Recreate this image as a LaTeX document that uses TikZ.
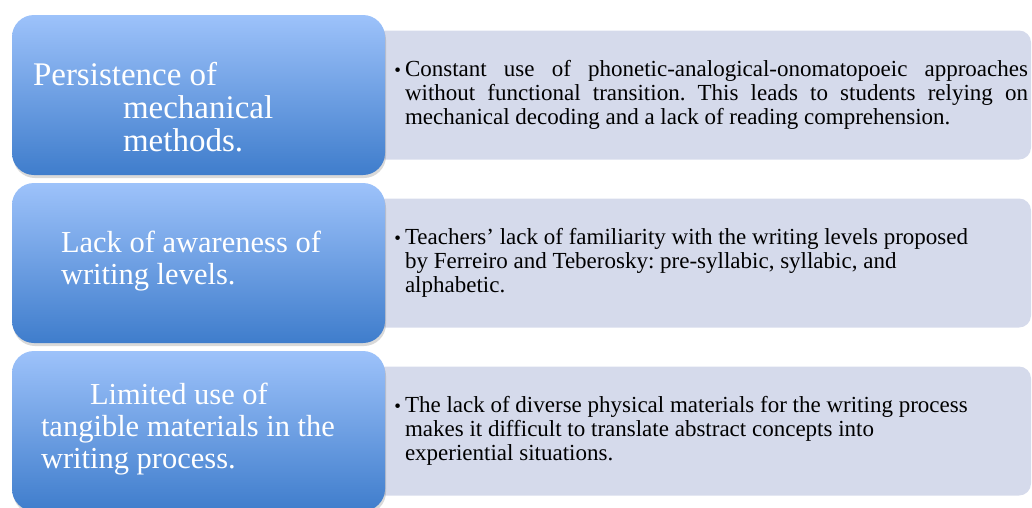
\documentclass[tikz,border=0pt]{standalone}
\usepackage{fontspec}
\setmainfont{Liberation Serif}
\usetikzlibrary{positioning,shadows}
\definecolor{topicLight}{RGB}{157,194,250}
\definecolor{topicDark}{RGB}{63,125,204}
\definecolor{detailFill}{RGB}{213,218,235}
\frenchspacing
\tikzset{%
	% Specifications for style of nodes:
	base/.style = {rectangle, inner sep=0pt, outer sep=0pt},
	topic/.style = {base, rounded corners=22pt,
		minimum width=373pt, minimum height=160pt,
		top color=topicLight, bottom color=topicDark,
		drop shadow={opacity=0.3, shadow xshift=1pt, shadow yshift=-3pt}},
	detail/.style = {base, rounded corners=12pt,
		minimum width=661pt, minimum height=129pt, fill=detailFill},
	topicText/.style = {base, text=white, align=left, anchor=base west},
	detailText/.style = {base, text=black, anchor=west,
		font=\fontsize{23}{24}\selectfont},
}
\newcommand{\dotitem}{\llap{{\fontsize{19}{19}\selectfont\textbullet}\hspace{4pt}}}
\pgfdeclarelayer{background}
\pgfsetlayers{background,main}

\begin{document}
\begin{tikzpicture}[x=1pt, y=-1pt, node distance=168pt]
\useasboundingbox (0,0) rectangle (1032,507);

\begin{pgfonlayer}{main}
\node (topic1) [topic] at (198.5,95) {};
\node (topic2) [topic, below of=topic1] {};
\node (topic3) [topic, below of=topic2] {};

%% text of the left boxes (base = baseline of last line)
\node (topic1text) [topicText, font=\fontsize{33}{33}\selectfont] at (33,151)
	{Persistence of\\\hspace*{90pt}mechanical\\\hspace*{90pt}methods.};
\node (topic2text) [topicText, font=\fontsize{30.5}{32}\selectfont] at (61,284)
	{Lack of awareness of\\writing levels.};
\node (topic3text) [topicText, font=\fontsize{30.5}{32}\selectfont] at (41,468)
	{\hspace*{49pt}Limited use of\\tangible materials in the\\writing process.};
\end{pgfonlayer}

\begin{pgfonlayer}{background}
\node (detail1) [detail, right=-15pt of topic1] {};
\node (detail2) [detail, right=-15pt of topic2] {};
\node (detail3) [detail, right=-15pt of topic3] {};

\node (detail1text) [detailText, text width=623pt, align=justify, right=35pt of detail1.west]
	{\dotitem Constant use of phonetic-analogical-onomatopoeic approaches\linebreak
	without functional transition. This leads to students relying on\linebreak
	mechanical decoding and a lack of reading comprehension.};
\node (detail2text) [detailText, align=left, right=35pt of detail2.west]
	{\dotitem Teachers’ lack of familiarity with the writing levels proposed\\
	by Ferreiro and Teberosky: pre-syllabic, syllabic, and\\
	alphabetic.};
\node (detail3text) [detailText, align=left, right=35pt of detail3.west]
	{\dotitem The lack of diverse physical materials for the writing process\\
	makes it difficult to translate abstract concepts into\\
	experiential situations.};
\end{pgfonlayer}

\end{tikzpicture}
\end{document}
